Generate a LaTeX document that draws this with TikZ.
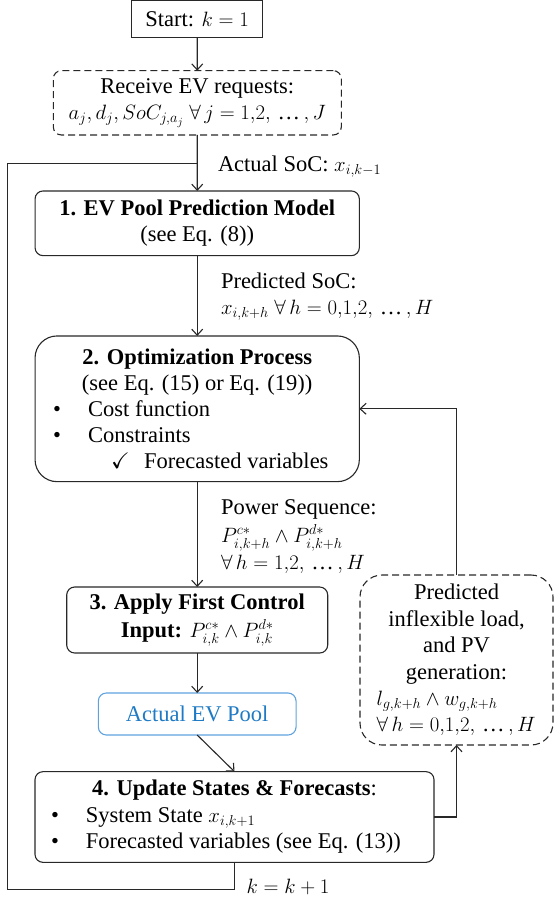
\documentclass[tikz,border=0pt]{standalone}
\usepackage{amssymb}
\usepackage{fontspec}
\setmainfont{Liberation Serif}
\usetikzlibrary{arrows.meta}
\definecolor{ln}{RGB}{40,40,40}
\definecolor{evtext}{RGB}{30,122,196}
\definecolor{evline}{RGB}{95,162,222}
\newcommand{\myell}{\mbox{…}}
\tikzset{
  base/.style={font=\fontsize{22.5}{26.5}\selectfont, inner sep=0pt, outer sep=0pt},
  box/.style={base, draw=ln, line width=1.1pt, rounded corners=8pt, align=center},
  dbox/.style={box, dash pattern=on 7pt off 4pt},
  lbl/.style={base, align=left, anchor=west},
  arr/.style={draw=ln, line width=1.1pt, -{Straight Barb[length=6pt,width=11pt]}},
  ln/.style={draw=ln, line width=1.1pt}
}
\begin{document}
\begin{tikzpicture}[x=1pt,y=-1pt]
\useasboundingbox (0,0) rectangle (554,903);

\node[box, rounded corners=0pt, minimum width=131pt, minimum height=37.7pt] (start) at (197.2,18.8) {Start: $k=1$};

\node[dbox, minimum width=288pt, minimum height=64.3pt] (req) at (197.3,102.8)
  {Receive EV requests:\\ $a_j, d_j, SoC_{j,a_j}\;\forall\, j = 1{,}2,\,\myell\,, J$};

\node[box, minimum width=324.3pt, minimum height=64.7pt] (b1) at (197.2,223.3)
  {\textbf{1. EV Pool Prediction Model}\\(see Eq. (8))};

\node[box, rounded corners=22pt, minimum width=324.3pt, minimum height=145.7pt, font=\fontsize{22.5}{25.8}\selectfont] (b2) at (197.2,408.8)
  {\textbf{2. Optimization Process}\\
   (see Eq. (15) or Eq. (19))\\
   \makebox[300pt][l]{\hspace{6pt}\makebox[35pt][l]{\textbullet}Cost function}\\
   \makebox[300pt][l]{\hspace{6pt}\makebox[35pt][l]{\textbullet}Constraints}\\
   \makebox[300pt][l]{\hspace{64pt}\makebox[33pt][l]{\checkmark}Forecasted variables}};

\node[box, minimum width=261pt, minimum height=66pt, font=\fontsize{22.5}{27.5}\selectfont] (b3) at (197.2,620)
  {\textbf{3. Apply First Control}\\ \textbf{Input:} $P^{c*}_{i,k}\wedge P^{d*}_{i,k}$};

\node[box, draw=evline, text=evtext, minimum width=197.7pt, minimum height=42pt] (pool) at (197.2,714) {Actual EV Pool};

\node[box, minimum width=399pt, minimum height=90.7pt] (b4) at (234.5,817)
  {\textbf{4. Update States \& Forecasts}:\\
   \makebox[380pt][l]{\hspace{6.5pt}\makebox[35pt][l]{\textbullet}System State $x_{i,k+1}$}\\
   \makebox[380pt][l]{\hspace{6.5pt}\makebox[35pt][l]{\textbullet}Forecasted variables (see Eq. (13))}};

\node[dbox, rounded corners=22pt, minimum width=193pt, minimum height=170pt, font=\fontsize{22.5}{26.4}\selectfont] (pred) at (456.5,660)
  {Predicted\\ inflexible load,\\ and PV\\ generation:\\
   \makebox[159.6pt][l]{$l_{g,k+h}\wedge w_{g,k+h}$}\\
   \makebox[159.6pt][l]{$\forall\, h = 0{,}1{,}2,\,\myell\,, H$}};

% labels
\node[lbl] (l1) at (218,167) {Actual SoC: $x_{i,k-1}$};
\node[lbl] (l2) at (221,296.5) {Predicted SoC:\\ $x_{i,k+h}\;\forall\, h = 0{,}1{,}2,\,\myell\,, H$};
\node[lbl, font=\fontsize{22.5}{27.5}\selectfont] (l3) at (221,537) {Power Sequence:\\ $P^{c*}_{i,k+h}\wedge P^{d*}_{i,k+h}$\\ $\forall\, h = 1{,}2,\,\myell\,, H$};
\node[lbl] (l4) at (246.7,886.7) {$k=k+1$};

% coordinates
\coordinate (j) at (197.2,163.3);
\coordinate (c1) at (7.3,889.3);

% connectors
\draw[arr] (start) -- (req);
\draw[arr] (req) -- (b1);
\draw[arr] (b1) -- (b2);
\draw[arr] (b2) -- (b3);
\draw[arr] (b3) -- (pool);
\draw[arr] (pool.south) -- (b4.north);
\draw[arr] (b4.east) -| (pred.south);
\draw[arr] (pred.north) |- (b2.east);
\draw[ln] (b4.south) |- (c1) |- (j);
\end{tikzpicture}
\end{document}
